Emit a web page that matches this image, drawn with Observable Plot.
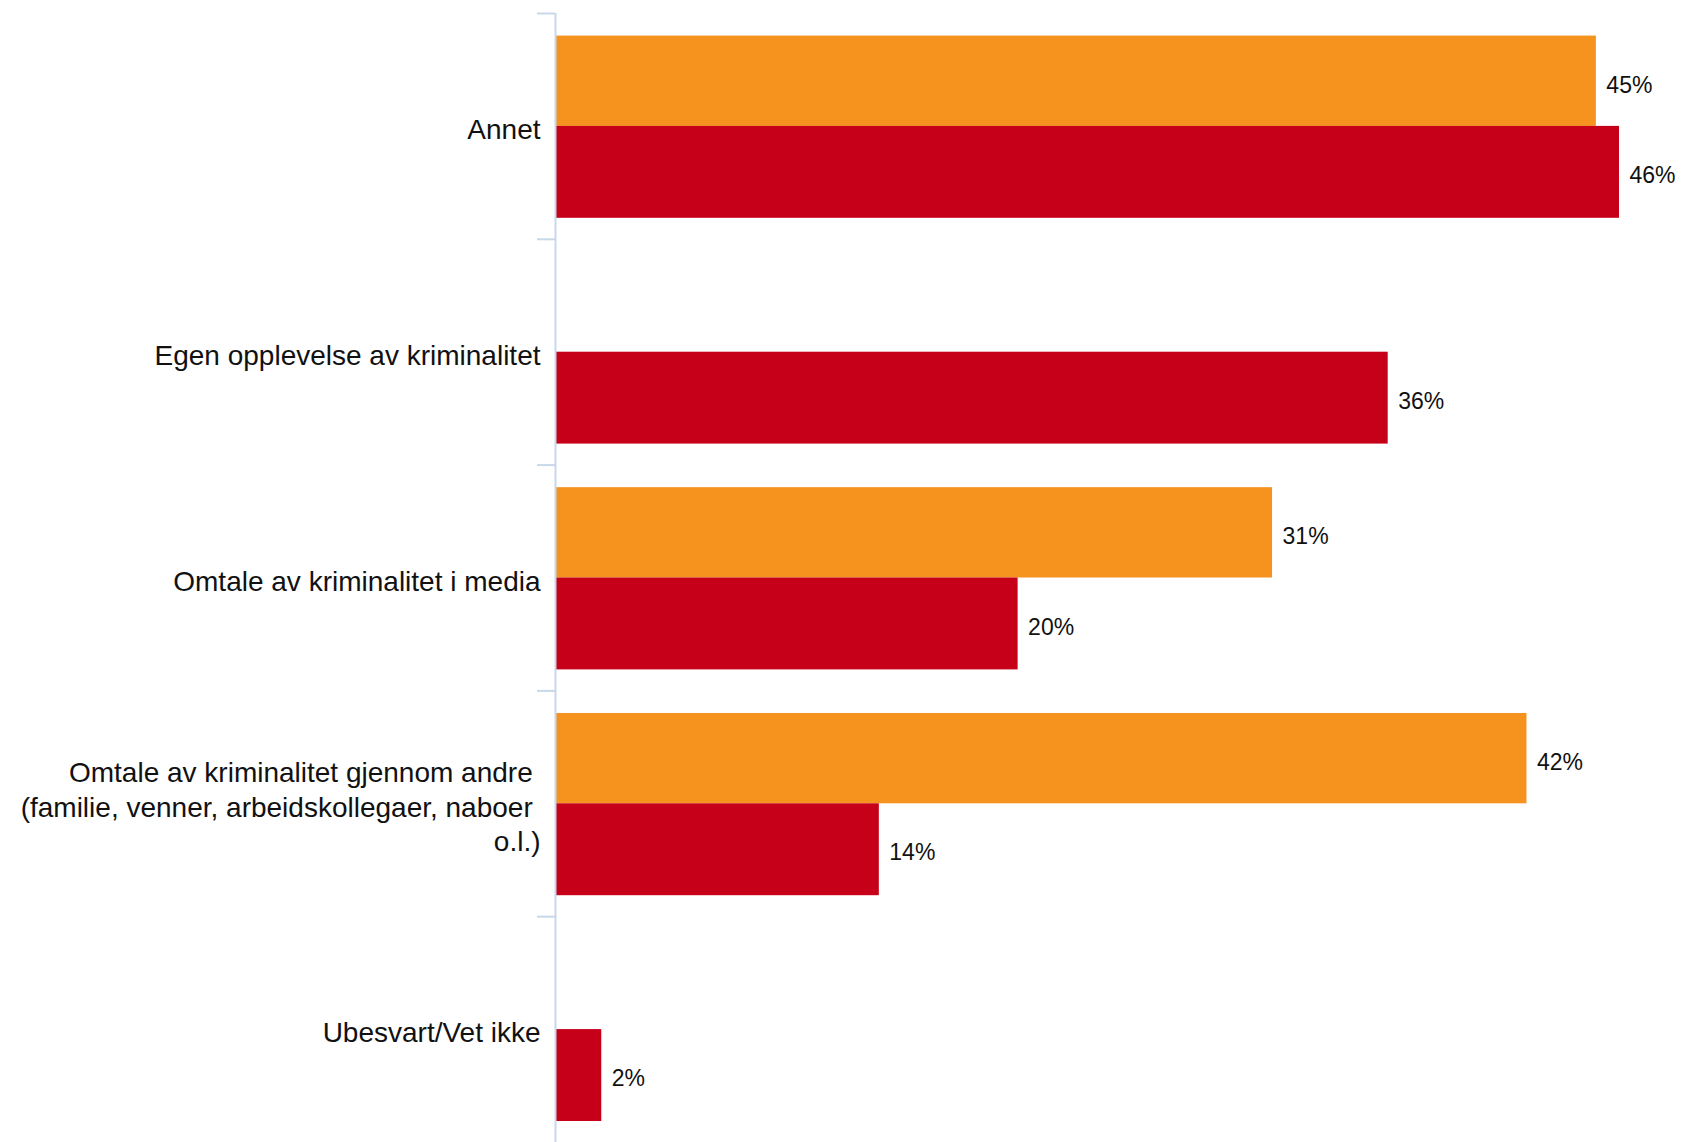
<!DOCTYPE html>
<html>
<head>
<meta charset="utf-8">
<script src="https://cdn.jsdelivr.net/npm/d3@7"></script>
<script src="https://cdn.jsdelivr.net/npm/@observablehq/plot@0.6"></script>
<style>
  html, body { margin: 0; padding: 0; background: #ffffff; }
  #chart svg { display: block; }
</style>
</head>
<body>
<div id="chart"></div>
<script>
const categories = [
  "Annet",
  "Egen opplevelse av kriminalitet",
  "Omtale av kriminalitet i media",
  "Omtale av kriminalitet gjennom andre\u00a0\n(familie, venner, arbeidskollegaer, naboer\u00a0\no.l.)",
  "Ubesvart/Vet ikke"
];
const orangeValues = [45, null, 31, 42, null];
const redValues = [46, 36, 20, 14, 2];

const orangeColor = "#F6921E";
const redColor = "#C50018";
const axisColor = "#C8D8EA";

const rows = categories.map((category, i) => ({category, i}));
const orangeRows = categories.map((c, i) => ({i, value: orangeValues[i]})).filter(d => d.value != null);
const redRows = categories.map((c, i) => ({i, value: redValues[i]})).filter(d => d.value != null);
const boundaries = d3.range(categories.length).map(i => i - 0.5);

const chart = Plot.plot({
  width: 1681,
  height: 1142,
  marginLeft: 555,
  marginRight: 62,
  marginTop: 13,
  marginBottom: 0,
  x: {domain: [0, 46], axis: null},
  y: {domain: [-0.5, categories.length - 0.5], reverse: true, axis: null, label: null},
  style: {fontFamily: "'Liberation Sans', Arial, sans-serif", background: "#ffffff", overflow: "visible"},
  marks: [
    Plot.rect(orangeRows, {x1: 0, x2: "value", y1: d => d.i - 0.4, y2: d => d.i, fill: orangeColor}),
    Plot.rect(redRows, {x1: 0, x2: "value", y1: d => d.i, y2: d => d.i + 0.407, fill: redColor}),
    Plot.ruleX([0], {y1: -0.5, y2: categories.length - 0.5, stroke: axisColor, strokeWidth: 2}),
    Plot.axisY({ticks: boundaries, tickSize: 18, tickFormat: () => "", label: null, stroke: axisColor, strokeWidth: 2, strokeOpacity: 1}),
    Plot.text(rows, {x: 0, y: "i", text: "category", textAnchor: "end", dx: -15, dy: 1.5, fontSize: 28, lineHeight: 1.25, fill: "#111111"}),
    Plot.text(orangeRows, {x: "value", y: d => d.i - 0.2, text: d => d.value + "%", textAnchor: "start", dx: 10, dy: 4, fontSize: 23, fill: "#111111"}),
    Plot.text(redRows, {x: "value", y: d => d.i + 0.2, text: d => d.value + "%", textAnchor: "start", dx: 10, dy: 4, fontSize: 23, fill: "#111111"})
  ]
});
document.getElementById("chart").appendChild(chart);
</script>
</body>
</html>
